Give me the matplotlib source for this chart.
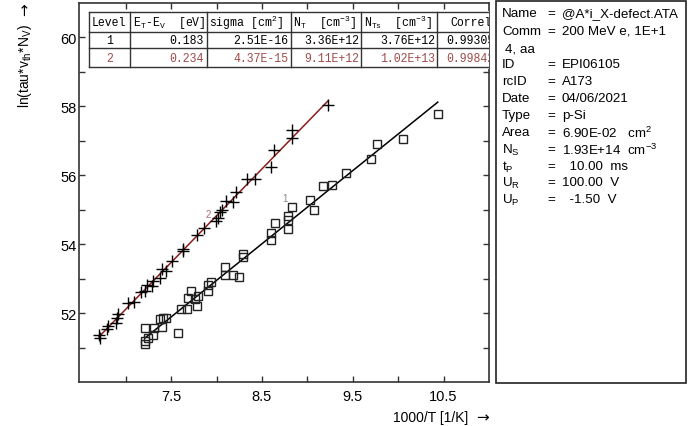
import numpy as np
import matplotlib.pyplot as plt
from matplotlib.ticker import FixedLocator
from matplotlib.patches import Rectangle

plt.rcParams['font.family'] = ['Liberation Sans', 'DejaVu Sans']
plt.rcParams['mathtext.default'] = 'regular'

# Arrhenius points, level 1 (squares) and level 2 (crosses)
x1 = [7.213, 7.213, 7.243, 7.213, 7.305, 7.313, 7.397, 7.379, 7.415, 7.445,
      7.581, 7.607, 7.680, 7.684, 7.720, 7.790, 7.765, 7.801, 7.904, 7.904,
      7.941, 8.095, 8.095, 8.176, 8.253, 8.291, 8.297, 8.599, 8.599, 8.647,
      8.782, 8.782, 8.782, 8.831, 9.025, 9.069, 9.168, 9.272, 9.426, 9.702,
      9.768, 10.050, 10.436]
y1 = [51.10, 51.20, 51.27, 51.57, 51.36, 51.58, 51.61, 51.83, 51.85, 51.86,
      51.42, 52.12, 52.12, 52.45, 52.65, 52.21, 52.41, 52.50, 52.65, 52.81,
      52.89, 53.35, 53.10, 53.11, 53.05, 53.71, 53.64, 54.32, 54.12, 54.61,
      54.43, 54.70, 54.82, 55.09, 55.28, 54.99, 55.69, 55.71, 56.06, 56.48,
      56.90, 57.06, 57.77]
x2 = [6.706, 6.714, 6.791, 6.805, 6.890, 6.908, 6.920, 7.029, 7.092, 7.166,
      7.213, 7.232, 7.294, 7.305, 7.379, 7.404, 7.442, 7.515, 7.636, 7.626,
      7.783, 7.864, 7.993, 8.015, 8.040, 8.059, 8.106, 8.180, 8.217, 8.341,
      8.426, 8.599, 8.636, 8.831, 8.831, 9.228]
y2 = [51.36, 51.27, 51.55, 51.63, 51.71, 51.87, 51.97, 52.29, 52.33, 52.60,
      52.65, 52.81, 52.79, 52.94, 53.03, 53.28, 53.23, 53.52, 53.81, 53.87,
      54.26, 54.46, 54.66, 54.77, 54.92, 55.00, 55.26, 55.21, 55.50, 55.88,
      55.90, 56.25, 56.72, 57.07, 57.30, 58.04]

# fit results table
levels = ['1', '2']
e_t = [0.183, 0.234]
sigma = ['2.51E-16', '4.37E-15']
n_t = ['3.36E+12', '9.11E+12']
n_ts = ['3.76E+12', '1.02E+13']
correl = ['0.99305', '0.99842']

info_keys = ['Name', 'Comm', '', 'ID', 'rcID', 'Date', 'Type', 'Area',
             'N$_S$', 't$_P$', 'U$_R$', 'U$_P$']
info_vals = ['@A*i_X-defect.ATA', '200 MeV e, 1E+1', '4, aa', 'EPI06105',
             'A173', '04/06/2021', 'p-Si', '6.90E-02   cm$^2$',
             '1.93E+14  cm$^{-3}$', '  10.00  ms', '100.00  V', '  -1.50  V']

kB = 8.617e-5
W, H = 688, 427

fig = plt.figure(figsize=(W / 100, H / 100), dpi=100)


def box(l, t, r, b):
    return [l / W, 1 - b / H, (r - l) / W, (b - t) / H]


ax = fig.add_axes(box(79, 4, 489, 383))
ax.set_xlim(6.486, 11.0)
ax.set_ylim(50.0, 61.0)

red = '#8b1c1c'
for xs, ys, e, c in [(x1, y1, e_t[0], 'black'), (x2, y2, e_t[1], red)]:
    xs = np.array(xs)
    ys = np.array(ys)
    slope = e / (kB * 1e3)
    icpt = ys.mean() - slope * xs.mean()
    xx = np.array([xs.min(), xs.max()])
    ax.plot(xx, icpt + slope * xx, color=c, lw=1.1, zorder=2)

ax.plot(x1, y1, 's', ms=6.3, mfc='none', mec='#222222', mew=1.0, zorder=3)
ax.plot(x2, y2, '+', ms=8, color='black', mew=1.0, zorder=3)
ax.text(8.757, 55.35, '1', fontsize=7, color='#888888', ha='center', va='center')
ax.text(7.91, 54.87, '2', fontsize=7, color='#b06a6a', ha='center', va='center')

ax.xaxis.set_major_locator(FixedLocator([7.5, 8.5, 9.5, 10.5]))
ax.xaxis.set_minor_locator(FixedLocator([7.0, 8.0, 9.0, 10.0]))
ax.yaxis.set_major_locator(FixedLocator([52, 54, 56, 58, 60]))
ax.yaxis.set_minor_locator(FixedLocator([51, 53, 55, 57, 59]))
ax.tick_params(which='both', direction='in', length=4, width=1, color='#333333',
               top=True, right=True, labelsize=10.5)
ax.tick_params(axis='x', pad=5)
ax.tick_params(axis='y', pad=2)
for s in ax.spines.values():
    s.set_color('#333333')
    s.set_linewidth(1.2)

# table of level parameters, clipped at the plot edge
tab = fig.add_axes(box(88, 12, 489, 70))
tab.set_xlim(88, 489)
tab.set_ylim(70, 12)
tab.set_xticks([])
tab.set_yticks([])
for s in tab.spines.values():
    s.set_visible(False)
tab.set_facecolor('white')
lc = '#333333'
for yy in [13.3, 32.7, 49.3, 68.3]:
    tab.plot([89.3, 500], [yy, yy], color=lc, lw=1.0)
for xx in [89.3, 130, 206.7, 290.7, 361, 437.3]:
    tab.plot([xx, xx], [13.3, 68.3], color=lc, lw=1.0)

mono = dict(family=['Liberation Mono', 'DejaVu Sans Mono'], fontsize=8.3,
            va='center', clip_on=True)
hy = 23
tab.text(92, hy, 'Level', ha='left', **mono)
tab.text(133, hy, 'E$_T$-E$_V$  [eV]', ha='left', **mono)
tab.text(209, hy, 'sigma [cm$^2$]', ha='left', **mono)
tab.text(293, hy, 'N$_T$  [cm$^{-3}$]', ha='left', **mono)
tab.text(364, hy, 'N$_{Ts}$  [cm$^{-3}$]', ha='left', **mono)
tab.text(492, hy, 'Correl', ha='right', **mono)
for i, ry in enumerate([41, 58.8]):
    col = 'black' if i == 0 else '#a04a4a'
    tab.text(110, ry, levels[i], ha='center', color=col, **mono)
    tab.text(204, ry, f'{e_t[i]:.3f}', ha='right', color=col, **mono)
    tab.text(288, ry, sigma[i], ha='right', color=col, **mono)
    tab.text(359, ry, n_t[i], ha='right', color=col, **mono)
    tab.text(435, ry, n_ts[i], ha='right', color=col, **mono)
    tab.text(494, ry, correl[i], ha='right', color=col, **mono)

# overlay for labels and measurement info box
ov = fig.add_axes([0, 0, 1, 1])
ov.set_xlim(0, W)
ov.set_ylim(H, 0)
ov.axis('off')
ov.add_patch(Rectangle((496, 1.5), 190, 382.5, fill=False, ec='#222222', lw=1.2))
iy = [14, 32, 49, 65, 82, 99, 116, 133, 150, 167, 183, 200]
fs = 9.6
for k, v, yy in zip(info_keys, info_vals, iy):
    if k == '':
        ov.text(505, yy, v, fontsize=fs, va='center', ha='left')
        continue
    ov.text(502, yy, k, fontsize=fs, va='center', ha='left')
    ov.text(547, yy, '=', fontsize=fs, va='center', ha='left')
    ov.text(562, yy, v, fontsize=fs, va='center', ha='left')

ov.text(25, 24, 'ln(tau*v$_{th}$*N$_V$)', rotation=90,
        fontsize=10, ha='center', va='top')
ov.text(25, 3, '\u2192', rotation=90, family='DejaVu Sans',
        fontsize=11, ha='center', va='top')
ov.text(468, 418, '1000/T [1/K]', fontsize=10, ha='right', va='center')
ov.text(489, 418, '\u2192', family='DejaVu Sans', fontsize=11,
        ha='right', va='center')

fig.savefig('out.png', dpi=100)
